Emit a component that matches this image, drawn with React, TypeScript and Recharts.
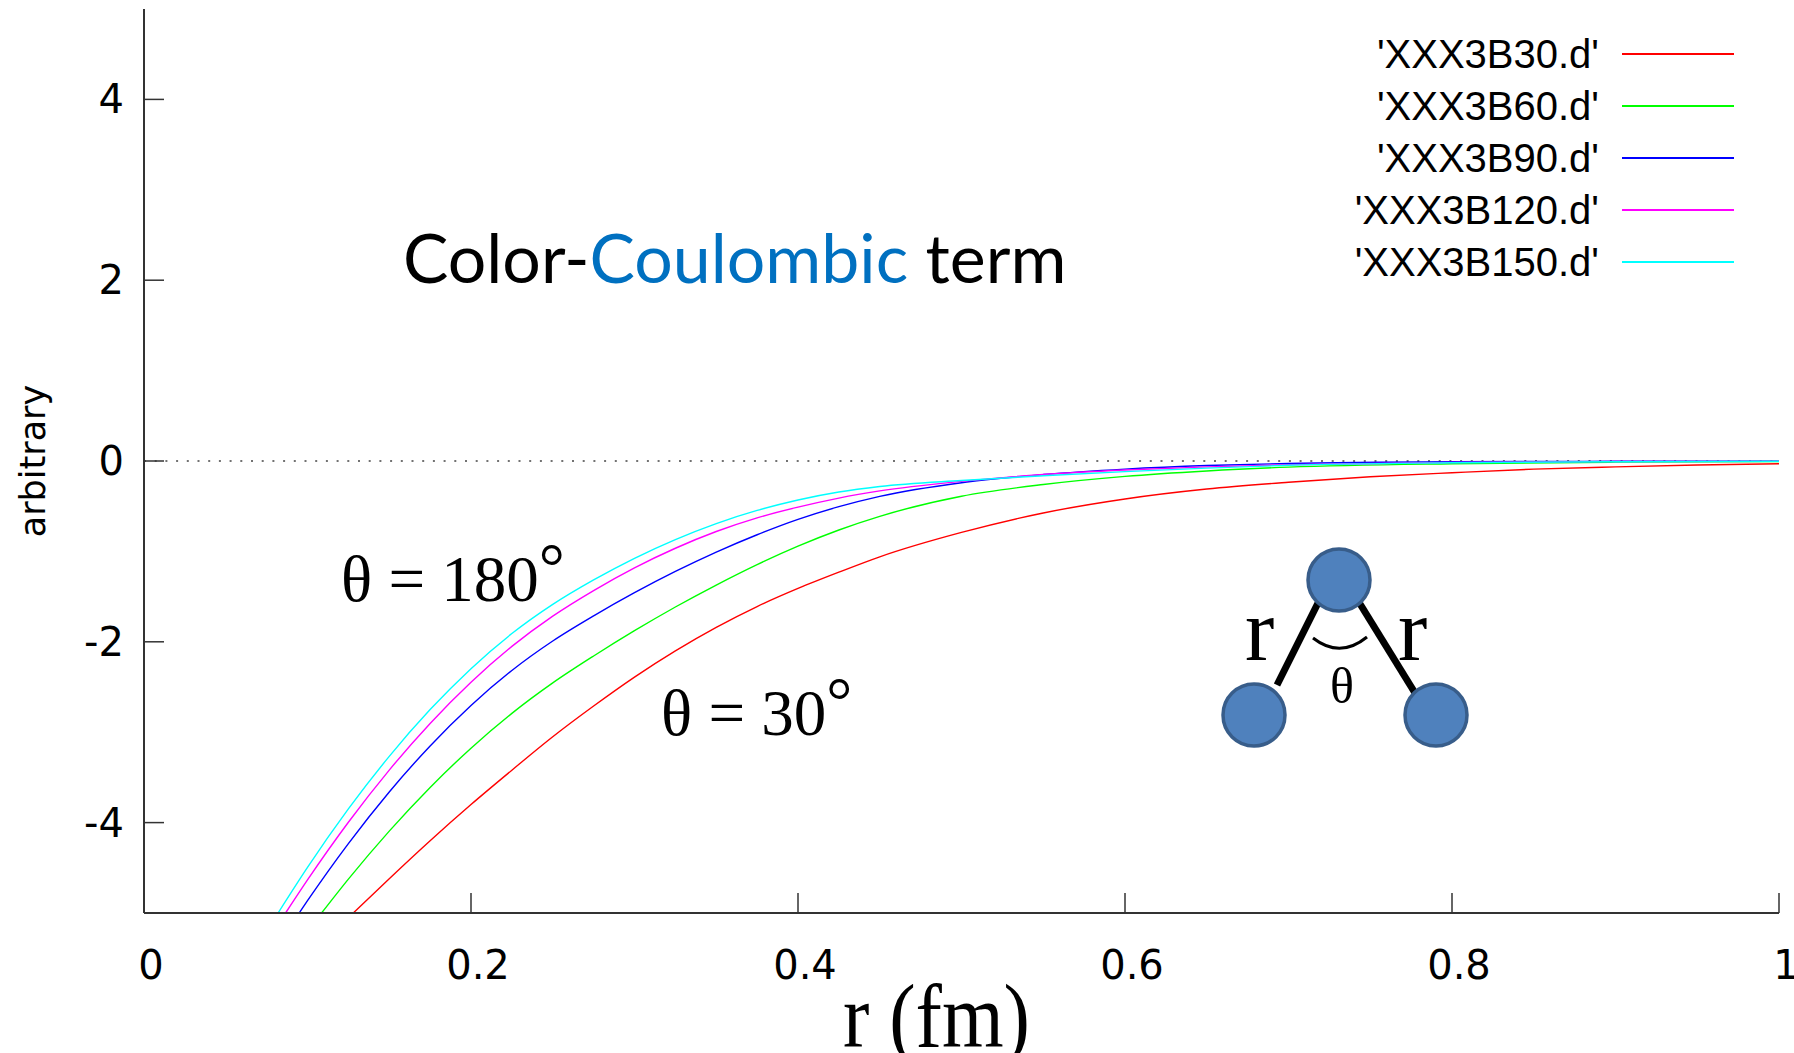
import { Legend, Line, LineChart, ReferenceLine, XAxis, YAxis } from "recharts"

const xTicks = [0, 0.2, 0.4, 0.6, 0.8, 1]
const yTicks = [-4, -2, 0, 2, 4]

// theta = 30
const r30 = [0.128, 0.15, 0.175, 0.2, 0.225, 0.25, 0.275, 0.3, 0.325, 0.35, 0.375, 0.4, 0.425, 0.45, 0.5, 0.55, 0.6, 0.65, 0.7, 0.75, 0.8, 0.85, 0.9, 0.95, 1.0]
const v30 = [-5.0, -4.62, -4.2, -3.8, -3.42, -3.05, -2.71, -2.39, -2.1, -1.84, -1.61, -1.41, -1.23, -1.06, -0.79, -0.575, -0.42, -0.31, -0.235, -0.175, -0.13, -0.09, -0.065, -0.045, -0.031]

// theta = 60
const r60 = [0.1086, 0.125, 0.15, 0.175, 0.2, 0.225, 0.25, 0.275, 0.3, 0.325, 0.35, 0.375, 0.4, 0.425, 0.45, 0.5, 0.55, 0.6, 0.65, 0.7, 0.8, 0.9, 1.0]
const v60 = [-5.0, -4.625, -4.094, -3.611, -3.177, -2.792, -2.455, -2.157, -1.877, -1.615, -1.372, -1.146, -0.942, -0.763, -0.612, -0.39, -0.26, -0.17, -0.11, -0.068, -0.03, -0.013, -0.006]

// theta = 90
const r90 = [0.0949, 0.1, 0.125, 0.15, 0.175, 0.2, 0.225, 0.25, 0.275, 0.3, 0.325, 0.35, 0.375, 0.4, 0.425, 0.45, 0.5, 0.55, 0.6, 0.65, 0.7, 0.8, 0.9, 1.0]
const v90 = [-5.0, -4.864, -4.232, -3.661, -3.152, -2.704, -2.317, -1.991, -1.713, -1.457, -1.222, -1.008, -0.816, -0.646, -0.505, -0.391, -0.24, -0.15, -0.09, -0.05, -0.027, -0.008, -0.003, -0.001]

// theta = 120
const r120 = [0.0866, 0.1, 0.125, 0.15, 0.175, 0.2, 0.225, 0.25, 0.275, 0.3, 0.325, 0.35, 0.375, 0.4, 0.425, 0.45, 0.5, 0.55, 0.6, 0.65, 0.7, 0.8, 0.9, 1.0]
const v120 = [-5.0, -4.634, -3.996, -3.419, -2.903, -2.447, -2.051, -1.716, -1.433, -1.182, -0.965, -0.78, -0.629, -0.51, -0.41, -0.331, -0.225, -0.15, -0.1, -0.065, -0.042, -0.016, -0.006, -0.002]

// theta = 150
const r150 = [0.082, 0.1, 0.125, 0.15, 0.175, 0.2, 0.225, 0.25, 0.275, 0.3, 0.325, 0.35, 0.375, 0.4, 0.425, 0.45, 0.5, 0.55, 0.6, 0.65, 0.7, 0.8, 0.9, 1.0]
const v150 = [-5.0, -4.495, -3.849, -3.267, -2.75, -2.297, -1.909, -1.586, -1.315, -1.076, -0.869, -0.692, -0.547, -0.431, -0.343, -0.282, -0.215, -0.163, -0.118, -0.079, -0.047, -0.02, -0.008, -0.003]

const seriesNames = ["'XXX3B30.d'", "'XXX3B60.d'", "'XXX3B90.d'", "'XXX3B120.d'", "'XXX3B150.d'"]
const seriesColors = ["#ff0000", "#00ff00", "#0000ff", "#ff00ff", "#00ffff"]
const seriesR = [r30, r60, r90, r120, r150]
const seriesV = [v30, v60, v90, v120, v150]

const series = seriesNames.map((name, i) => ({
  name,
  color: seriesColors[i],
  data: seriesR[i].map((r, j) => ({ r, v: seriesV[i][j] })),
}))

const TICK_FONT = { fontFamily: "DejaVu Sans", fontSize: 40, fill: "#000" }
const AXIS = "#333"

function fmtX(v: number) {
  return String(Math.round(v * 10) / 10)
}

function BottomTick({ x, y, payload }: any) {
  return (
    <g>
      <line x1={x} x2={x} y1={y} y2={y - 20} stroke={AXIS} strokeWidth={1.5} />
      <text x={x + 7} y={y + 52} textAnchor="middle" dominantBaseline="central" style={TICK_FONT}>
        {fmtX(payload.value)}
      </text>
    </g>
  )
}

function TopTick({ x, y }: any) {
  return <line x1={x} x2={x} y1={y} y2={y + 20} stroke={AXIS} strokeWidth={1.5} />
}

function LeftTick({ x, y, payload }: any) {
  return (
    <g>
      <line x1={x} x2={x + 20} y1={y} y2={y} stroke={AXIS} strokeWidth={1.5} />
      <text x={x - 20} y={y} textAnchor="end" dominantBaseline="central" style={TICK_FONT}>
        {payload.value}
      </text>
    </g>
  )
}

function RightTick({ x, y }: any) {
  return <line x1={x} x2={x - 20} y1={y} y2={y} stroke={AXIS} strokeWidth={1.5} />
}

// gnuplot-style key: label right-aligned, sample line after it, in plot order
function KeyBox() {
  return (
    <div style={{ fontFamily: "Liberation Sans", fontSize: 40, color: "#000" }}>
      {series.map((s) => (
        <div key={s.name} style={{ display: "flex", alignItems: "center", height: 52 }}>
          <span style={{ width: 300, textAlign: "right", whiteSpace: "nowrap" }}>{s.name}</span>
          <span style={{ marginLeft: 23, width: 112, height: 1.5, background: s.color }} />
        </div>
      ))}
    </div>
  )
}

function Notes() {
  const serif = "Liberation Serif"
  return (
    <svg width={1794} height={1053} style={{ position: "absolute", left: 0, top: 0, pointerEvents: "none" }}>
      <text x={403} y={283} style={{ fontFamily: "Lato", fontSize: 68 }} fill="#000">
        Color-<tspan fill="#0070C0">Coulombic</tspan> term
      </text>
      <text x={341} y={601} style={{ fontFamily: serif, fontSize: 65 }}>
        θ = 180<tspan dy={-12}>°</tspan>
      </text>
      <text x={661} y={735} style={{ fontFamily: serif, fontSize: 65 }}>
        θ = 30<tspan dy={-12}>°</tspan>
      </text>
      <text
        x={45}
        y={461}
        transform="rotate(-90 45 461)"
        textAnchor="middle"
        style={{ fontFamily: "DejaVu Sans", fontSize: 35 }}
      >
        arbitrary
      </text>
      <text x={843} y={1047} textLength={187} lengthAdjust="spacingAndGlyphs" style={{ fontFamily: serif, fontSize: 92 }}>
        r (fm)
      </text>

      {/* three-body sketch */}
      <line x1={1277} y1={685} x2={1318} y2={603} stroke="#000" strokeWidth={7} />
      <line x1={1357} y1={599} x2={1415} y2={693} stroke="#000" strokeWidth={7} />
      <circle cx={1339} cy={580} r={31} fill="#4F81BD" stroke="#385D8A" strokeWidth={3.5} />
      <circle cx={1254} cy={715} r={31} fill="#4F81BD" stroke="#385D8A" strokeWidth={3.5} />
      <circle cx={1436} cy={715} r={31} fill="#4F81BD" stroke="#385D8A" strokeWidth={3.5} />
      <path d="M1313 638 Q1340 659 1367 637" fill="none" stroke="#000" strokeWidth={3} />
      <text x={1245} y={660} style={{ fontFamily: serif, fontSize: 88 }}>r</text>
      <text x={1398} y={660} style={{ fontFamily: serif, fontSize: 88 }}>r</text>
      <text x={1342} y={703} textAnchor="middle" style={{ fontFamily: serif, fontSize: 50 }}>θ</text>
    </svg>
  )
}

export default function App() {
  return (
    <div style={{ position: "relative", width: 1794, height: 1053 }}>
      <style>{"html,body{margin:0;padding:0;overflow:hidden;background:#fff}"}</style>
      <LineChart width={1794} height={1053} margin={{ top: 9, right: 15, bottom: 0, left: 0 }}>
        <XAxis
          dataKey="r"
          type="number"
          domain={[0, 1]}
          ticks={xTicks}
          interval={0}
          allowDataOverflow
          height={140}
          tickSize={0}
          tickMargin={0}
          tick={<BottomTick />}
          axisLine={{ stroke: AXIS, strokeWidth: 2 }}
          tickLine={false}
        />
        <XAxis
          xAxisId="top"
          orientation="top"
          dataKey="r"
          type="number"
          domain={[0, 1]}
          ticks={xTicks}
          interval={0}
          allowDataOverflow
          height={0}
          tickSize={0}
          tickMargin={0}
          tick={<TopTick />}
          axisLine={{ stroke: AXIS, strokeWidth: 2 }}
          tickLine={false}
        />
        <YAxis
          type="number"
          domain={[-5, 5]}
          ticks={yTicks}
          interval={0}
          allowDataOverflow
          width={144}
          tickSize={0}
          tickMargin={0}
          tick={<LeftTick />}
          axisLine={{ stroke: AXIS, strokeWidth: 2 }}
          tickLine={false}
        />
        <YAxis
          yAxisId="right"
          orientation="right"
          type="number"
          domain={[-5, 5]}
          ticks={yTicks}
          interval={0}
          allowDataOverflow
          width={0}
          tickSize={0}
          tickMargin={0}
          tick={<RightTick />}
          axisLine={{ stroke: AXIS, strokeWidth: 2 }}
          tickLine={false}
        />
        <ReferenceLine y={0} stroke="#444" strokeWidth={1.5} strokeDasharray="2 8.7" />
        {series.map((s) => (
          <Line
            key={s.name}
            data={s.data}
            dataKey="v"
            name={s.name}
            type="monotone"
            stroke={s.color}
            strokeWidth={1.4}
            dot={false}
            activeDot={false}
            isAnimationActive={false}
          />
        ))}
        <Legend
          layout="vertical"
          align="center"
          verticalAlign="middle"
          width={450}
          wrapperStyle={{ left: 1299, top: 28, width: 450, height: "auto" }}
          content={<KeyBox />}
        />
      </LineChart>
      <Notes />
    </div>
  )
}
